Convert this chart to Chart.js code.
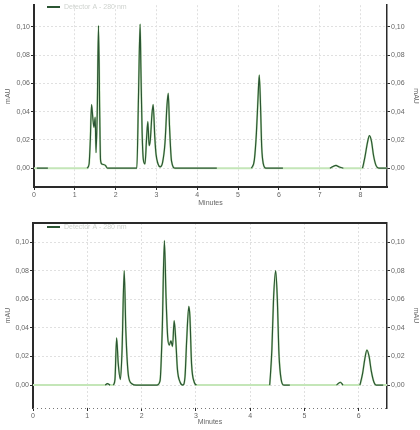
<!DOCTYPE html>
<html>
<head>
<meta charset="utf-8">
<script src="https://cdn.jsdelivr.net/npm/chart.js@4"></script>
<style>
  html, body { margin: 0; background: #fff; }
  canvas { display: block; }
</style>
</head>
<body>
<canvas id="topChart" width="420" height="215"></canvas>
<canvas id="bottomChart" width="420" height="215"></canvas>
<script>
// --- DATA ---
const yTicks = [0, 0.02, 0.04, 0.06, 0.08, 0.10];
const topXTicks = [0, 1, 2, 3, 4, 5, 6, 7, 8];
const bottomXTicks = [0, 1, 2, 3, 4, 5, 6];
const legendText = 'Detector A - 280 nm';

const topTime = [0, 0.07, 0.34, 1.30, 1.35, 1.38, 1.41, 1.44, 1.47, 1.50, 1.52, 1.55, 1.58, 1.61, 1.63, 1.66, 1.75, 1.80,
  2.52, 2.56, 2.60, 2.62, 2.65, 2.68, 2.72, 2.76, 2.79, 2.82, 2.85, 2.89, 2.92, 2.96, 2.99, 3.04, 3.09, 3.15, 3.21, 3.26,
  3.29, 3.32, 3.37, 3.46, 4.48, 5.33, 5.40, 5.45, 5.49, 5.52, 5.55, 5.58, 5.62, 5.68, 6.10, 7.25, 7.40, 7.47, 7.58,
  8.05, 8.11, 8.17, 8.22, 8.27, 8.32, 8.38, 8.45, 8.65];
const topValue = [0, 0, 0, 0, 0.003, 0.02, 0.045, 0.036, 0.029, 0.036, 0.011, 0.04, 0.101, 0.04, 0.006, 0.003, 0.002, 0,
  0, 0.05, 0.102, 0.07, 0.025, 0.006, 0.003, 0.022, 0.033, 0.016, 0.02, 0.038, 0.045, 0.022, 0.01, 0.003, 0.001, 0.004, 0.018, 0.045,
  0.053, 0.03, 0.005, 0, 0, 0, 0.006, 0.025, 0.05, 0.066, 0.045, 0.015, 0.003, 0, 0, 0, 0.002, 0.001, 0,
  0, 0.008, 0.018, 0.023, 0.019, 0.009, 0.002, 0, 0];
const topDarkRanges = [[0.07, 0.34], [1.30, 4.48], [5.33, 6.10], [7.25, 7.58], [8.05, 8.65]];

const bottomTime = [0, 1.30, 1.33, 1.37, 1.42, 1.48, 1.51, 1.54, 1.57, 1.61, 1.64, 1.68, 1.71, 1.76, 1.82, 1.90,
  2.28, 2.34, 2.38, 2.42, 2.45, 2.48, 2.51, 2.54, 2.57, 2.60, 2.63, 2.66, 2.71, 2.76, 2.80, 2.83, 2.87, 2.89, 2.92, 2.97, 3.01,
  4.36, 4.40, 4.43, 4.47, 4.50, 4.53, 4.57, 4.62, 4.73, 5.59, 5.66, 5.71,
  6.02, 6.07, 6.11, 6.15, 6.19, 6.23, 6.28, 6.32, 6.45, 6.52];
const bottomValue = [0, 0, 0, 0.001, 0, 0, 0.004, 0.033, 0.015, 0.004, 0.024, 0.080, 0.038, 0.006, 0.001, 0,
  0, 0.003, 0.038, 0.101, 0.062, 0.034, 0.028, 0.031, 0.027, 0.045, 0.031, 0.011, 0.002, 0, 0.006, 0.031, 0.055, 0.048, 0.015, 0.002, 0,
  0, 0.025, 0.06, 0.080, 0.06, 0.022, 0.004, 0, 0, 0, 0.002, 0,
  0, 0.008, 0.018, 0.0245, 0.02, 0.01, 0.002, 0, 0, 0];
const bottomDarkRanges = [[1.33, 1.42], [1.48, 3.01], [4.36, 4.73], [5.59, 5.71], [6.02, 6.45]];

// --- HELPERS ---
const DARK = '#2b5533';
const LIGHT = '#c4e6b8';
const TEXT = '#666';
const AXIS = '#2a2a2a';
const GRID = '#e0e0e0';
const FONT = { family: 'Liberation Sans, Arial, sans-serif', size: 7 };

function rangeIndex(t, ranges) {
  return ranges.findIndex(r => t >= r[0] - 1e-9 && t <= r[1] + 1e-9);
}

// dark trace only where the reference shows it; light trace runs underneath everywhere
function darkPoints(time, value, ranges) {
  const out = [];
  let prev = -2;
  time.forEach((t, i) => {
    const idx = rangeIndex(t, ranges);
    if (idx !== prev && out.length) out.push({ x: t - 0.001, y: null });
    if (idx >= 0) out.push({ x: t, y: value[i] });
    prev = idx;
  });
  return out;
}

const fmtY = v => v.toFixed(2).replace('.', ',');

function legendAndFrame(cfg) {
  return {
    id: 'legendAndFrame',
    afterDraw(chart) {
      const { ctx, chartArea } = chart;
      ctx.save();
      if (cfg.topBorder) {
        ctx.strokeStyle = AXIS; ctx.lineWidth = 2;
        ctx.beginPath(); ctx.moveTo(chartArea.left, chartArea.top); ctx.lineTo(chartArea.right, chartArea.top); ctx.stroke();
      }
      if (cfg.dottedBottom) {
        ctx.strokeStyle = '#777'; ctx.lineWidth = 1; ctx.setLineDash([1, 3]);
        ctx.beginPath(); ctx.moveTo(chartArea.left, chartArea.bottom + 0.5); ctx.lineTo(chartArea.right, chartArea.bottom + 0.5); ctx.stroke();
        ctx.setLineDash([]);
      }
      // legend
      ctx.strokeStyle = DARK; ctx.lineWidth = 2;
      ctx.beginPath(); ctx.moveTo(47, cfg.legendY); ctx.lineTo(60, cfg.legendY); ctx.stroke();
      ctx.fillStyle = '#cfd3cf'; ctx.font = '7px Liberation Sans, Arial, sans-serif'; ctx.textBaseline = 'middle';
      ctx.fillText(legendText, 64, cfg.legendY);
      ctx.restore();
    }
  };
}

function makeChart(id, time, value, ranges, xTicks, cfg) {
  const full = time.map((t, i) => ({ x: t, y: value[i] }));
  const yScale = (pos) => ({
    type: 'linear', position: pos, min: cfg.yMin, max: cfg.yMax,
    afterBuildTicks: s => { s.ticks = yTicks.map(v => ({ value: v })); },
    afterFit: s => { s.width = pos === 'left' ? cfg.leftW : 33; },
    ticks: { font: FONT, color: TEXT, padding: 1, callback: fmtY },
    grid: { display: true, drawOnChartArea: pos === 'left', color: GRID, tickColor: AXIS, tickLength: 3 },
    border: { display: true, color: AXIS, width: pos === 'left' ? 2 : 1.5, dash: [2, 2] },
    title: { display: true, text: 'mAU', font: FONT, color: TEXT, padding: { top: pos === 'left' ? 4 : 0, bottom: 0 } }
  });

  new Chart(document.getElementById(id), {
    type: 'line',
    data: {
      datasets: [
        { data: darkPoints(time, value, ranges), borderColor: DARK, borderWidth: 1.2, pointRadius: 0, spanGaps: false, cubicInterpolationMode: 'monotone', order: 0 },
        { data: full, borderColor: LIGHT, borderWidth: 2, pointRadius: 0, cubicInterpolationMode: 'monotone', order: 1 }
      ]
    },
    options: {
      responsive: false,
      animation: false,
      layout: { padding: { top: cfg.padTop, left: 0, right: 0, bottom: 0 } },
      plugins: { legend: { display: false }, tooltip: { enabled: false } },
      scales: {
        x: {
          type: 'linear', min: 0, max: cfg.xMax,
          afterBuildTicks: s => { s.ticks = xTicks.map(v => ({ value: v })); },
          afterFit: s => { s.height = cfg.xH; },
          ticks: { font: FONT, color: TEXT, padding: 1, maxRotation: 0, autoSkip: false },
          grid: { color: GRID, tickColor: AXIS, tickLength: 3 },
          border: { display: !cfg.dottedBottom, color: AXIS, width: 2, dash: [2, 2] },
          title: { display: true, text: 'Minutes', font: FONT, color: TEXT, padding: { top: 0, bottom: cfg.titlePad } }
        },
        y: yScale('left'),
        y2: yScale('right')
      }
    },
    plugins: [legendAndFrame(cfg)]
  });
}

makeChart('topChart', topTime, topValue, topDarkRanges, topXTicks, {
  xMax: 8.65, yMin: -0.0133, yMax: 0.1154, padTop: 3, xH: 28, leftW: 34, titlePad: 8,
  legendY: 7, topBorder: false, dottedBottom: false
});
makeChart('bottomChart', bottomTime, bottomValue, bottomDarkRanges, bottomXTicks, {
  xMax: 6.52, yMin: -0.016, yMax: 0.1133, padTop: 8, xH: 22, leftW: 33, titlePad: 4,
  legendY: 12, topBorder: true, dottedBottom: true
});
</script>
</body>
</html>
